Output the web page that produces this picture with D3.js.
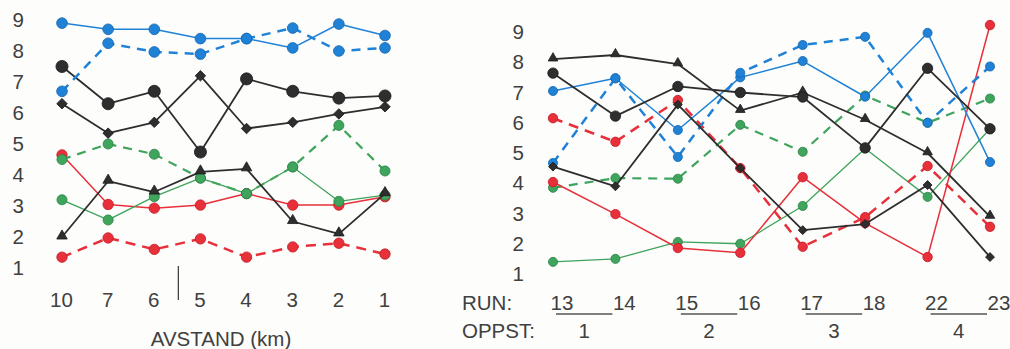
<!DOCTYPE html>
<html>
<head>
<meta charset="utf-8">
<script src="https://cdn.jsdelivr.net/npm/d3@7"></script>
<style>
  html, body { margin: 0; padding: 0; background: #fdfdfc; }
  svg { display: block; }
  text { font-family: "Liberation Sans", Arial, Helvetica, sans-serif; fill: #404040; }
</style>
</head>
<body>
<svg id="chart" width="1010" height="349"></svg>
<script>
// ---- Left panel: distance (km) ----
const distances = ["10", "7", "6", "5", "4", "3", "2", "1"];
const leftBlueSolid    = [8.9, 8.7, 8.7, 8.4, 8.4, 8.1, 8.87, 8.5];
const leftBlueDashed   = [6.7, 8.25, 7.97, 7.9, 8.4, 8.74, 8.0, 8.1];
const leftBlackCircle  = [7.5, 6.3, 6.7, 4.74, 7.1, 6.7, 6.48, 6.55];
const leftBlackDiamond = [6.3, 5.35, 5.7, 7.2, 5.5, 5.7, 5.97, 6.2];
const leftBlackTri     = [2.0, 3.8, 3.45, 4.1, 4.2, 2.5, 2.1, 3.4];
const leftGreenDashed  = [4.5, 5.0, 4.67, 3.9, 3.4, 4.26, 5.6, 4.13];
const leftGreenSolid   = [3.2, 2.55, 3.3, 3.9, 3.4, 4.26, 3.15, 3.35];
const leftRedSolid     = [4.65, 3.05, 2.93, 3.03, 3.4, 3.03, 3.03, 3.3];
const leftRedDashed    = [1.35, 1.97, 1.6, 1.94, 1.35, 1.68, 1.8, 1.45];

// ---- Right panel: runs grouped by OPPST ----
const runs = ["13", "14", "15", "16", "17", "18", "22", "23"];
const oppst = ["1", "2", "3", "4"];
const rightBlackTri     = [8.1, 8.24, 7.94, 6.4, 7.0, 6.1, 5.0, 2.9];
const rightBlackCircle  = [7.64, 6.22, 7.2, 7.0, 6.85, 5.17, 7.8, 5.8];
const rightBlackDiamond = [4.55, 3.9, 6.6, 4.5, 2.45, 2.65, 3.94, 1.56];
const rightBlueSolid    = [7.05, 7.47, 5.76, 7.5, 8.04, 6.86, 8.97, 4.7];
const rightBlueDashed   = [4.67, 7.47, 4.87, 7.65, 8.57, 8.84, 6.0, 7.86];
const rightRedSolid     = [4.04, 2.98, 1.86, 1.7, 4.2, 2.68, 1.56, 9.23];
const rightRedDashed    = [6.15, 5.37, 6.75, 4.5, 1.9, 2.88, 4.57, 2.56];
const rightGreenSolid   = [1.4, 1.5, 2.06, 2.0, 3.25, 5.15, 3.55, 5.8];
const rightGreenDashed  = [3.85, 4.17, 4.15, 5.93, 5.04, 6.9, 6.0, 6.8];

const yTicks = [1, 2, 3, 4, 5, 6, 7, 8, 9];
const FONT = 20.5;

const COL = {
  blue: "#1f82d6", blueEdge: "#1466ad",
  red: "#e8303a", redEdge: "#c21c26",
  green: "#3fa45c", greenEdge: "#2c8246",
  black: "#2e2e2e", blackEdge: "#1a1a1a"
};

const svg = d3.select("#chart");

function drawSeries(g, x, cats, s) {
  const pts = s.values.map((v, i) => [x(cats[i]), s.y(v)]);
  g.append("path")
    .attr("d", d3.line()(pts))
    .attr("fill", "none")
    .attr("stroke", COL[s.color])
    .attr("stroke-width", s.width)
    .attr("stroke-dasharray", s.dash || null)
    .attr("stroke-linejoin", "round");
  const m = g.append("g");
  const sym = s.marker === "circle" ? d3.symbolCircle
            : s.marker === "diamond" ? d3.symbolSquare
            : d3.symbolTriangle;
  pts.forEach(p => {
    const path = m.append("path")
      .attr("d", d3.symbol(sym, s.size)())
      .attr("fill", COL[s.color])
      .attr("stroke", COL[s.color + "Edge"])
      .attr("stroke-width", 0.8);
    if (s.marker === "diamond") {
      path.attr("transform", `translate(${p[0]},${p[1]}) rotate(45)`);
    } else if (s.marker === "triangle") {
      path.attr("transform", `translate(${p[0]},${p[1] - 1})`);
    } else {
      path.attr("transform", `translate(${p[0]},${p[1]})`);
    }
  });
}

function styleAxis(g) {
  g.select(".domain").remove();
  g.selectAll(".tick line").remove();
  g.selectAll("text").attr("font-size", FONT).attr("fill", "#404040")
    .attr("font-family", '"Liberation Sans", Arial, sans-serif');
}

// ================= Left panel =================
{
  const x = d3.scalePoint().domain(distances).range([62, 385]);
  const y = d3.scaleLinear().domain([1, 9]).range([268, 20]);
  const g = svg.append("g");

  g.append("g").attr("transform", "translate(24,0)")
    .call(d3.axisLeft(y).tickValues(yTicks).tickFormat(d3.format("d")).tickSize(0).tickPadding(0))
    .call(styleAxis);

  g.append("g").attr("transform", "translate(-1,292)")
    .call(d3.axisBottom(x).tickSize(0).tickPadding(0))
    .call(styleAxis)
    .selectAll("text").attr("dy", "0.71em");

  // separator between km 6 and km 5
  const sepX = (x("6") + x("5")) / 2 + 1;
  g.append("line").attr("x1", sepX).attr("x2", sepX).attr("y1", 266).attr("y2", 300)
    .attr("stroke", "#444").attr("stroke-width", 1.3);

  g.append("text").attr("x", 221).attr("y", 346).attr("text-anchor", "middle")
    .attr("font-size", FONT).text("AVSTAND (km)");

  const series = [
    { values: leftRedDashed, color: "red", dash: "10,7", width: 2.5, marker: "circle", size: 85 },
    { values: leftRedSolid, color: "red", width: 1.5, marker: "circle", size: 85 },
    { values: leftGreenSolid, color: "green", width: 1.3, marker: "circle", size: 80 },
    { values: leftGreenDashed, color: "green", dash: "9,7", width: 2.2, marker: "circle", size: 80 },
    { values: leftBlackTri, color: "black", width: 1.8, marker: "triangle", size: 48 },
    { values: leftBlackDiamond, color: "black", width: 1.8, marker: "diamond", size: 55 },
    { values: leftBlackCircle, color: "black", width: 1.8, marker: "circle", size: 115 },
    { values: leftBlueDashed, color: "blue", dash: "9,7", width: 2.5, marker: "circle", size: 90 },
    { values: leftBlueSolid, color: "blue", width: 1.5, marker: "circle", size: 90 }
  ];
  series.forEach(s => drawSeries(g, x, distances, Object.assign({ y }, s)));
}

// ================= Right panel =================
{
  const x = d3.scalePoint().domain(runs).range([553, 990]);
  const y = d3.scaleLinear().domain([1, 9]).range([274, 32]);
  const g = svg.append("g");

  g.append("g").attr("transform", "translate(524,0)")
    .call(d3.axisLeft(y).tickValues(yTicks).tickFormat(d3.format("d")).tickSize(0).tickPadding(0))
    .call(styleAxis);

  const ax = g.append("g").attr("transform", "translate(0,295)")
    .call(d3.axisBottom(x).tickSize(0).tickPadding(0))
    .call(styleAxis);
  ax.selectAll("text").attr("dy", "0.71em").attr("text-anchor", "start").attr("x", -3);

  g.append("text").attr("x", 462).attr("y", 310).attr("font-size", FONT).text("RUN:");
  g.append("text").attr("x", 462).attr("y", 338).attr("font-size", FONT).text("OPPST:");

  // pair underlines and OPPST group numbers
  oppst.forEach((o, i) => {
    const a = x(runs[2 * i]), b = x(runs[2 * i + 1]);
    g.append("line").attr("x1", a + 3).attr("x2", b - 3).attr("y1", 314).attr("y2", 314)
      .attr("stroke", "#555").attr("stroke-width", 1.3);
    g.append("text").attr("x", (a + b) / 2).attr("y", 338).attr("text-anchor", "middle")
      .attr("font-size", FONT).text(o);
  });

  const series = [
    { values: rightGreenSolid, color: "green", width: 1.3, marker: "circle", size: 65 },
    { values: rightGreenDashed, color: "green", dash: "9,7", width: 2.2, marker: "circle", size: 65 },
    { values: rightRedSolid, color: "red", width: 1.5, marker: "circle", size: 70 },
    { values: rightRedDashed, color: "red", dash: "10,7", width: 2.5, marker: "circle", size: 70 },
    { values: rightBlueSolid, color: "blue", width: 1.5, marker: "circle", size: 65 },
    { values: rightBlueDashed, color: "blue", dash: "9,7", width: 2.5, marker: "circle", size: 65 },
    { values: rightBlackDiamond, color: "black", width: 1.8, marker: "diamond", size: 40 },
    { values: rightBlackTri, color: "black", width: 1.8, marker: "triangle", size: 40 },
    { values: rightBlackCircle, color: "black", width: 1.8, marker: "circle", size: 85 }
  ];
  series.forEach(s => drawSeries(g, x, runs, Object.assign({ y }, s)));
}
</script>
</body>
</html>
